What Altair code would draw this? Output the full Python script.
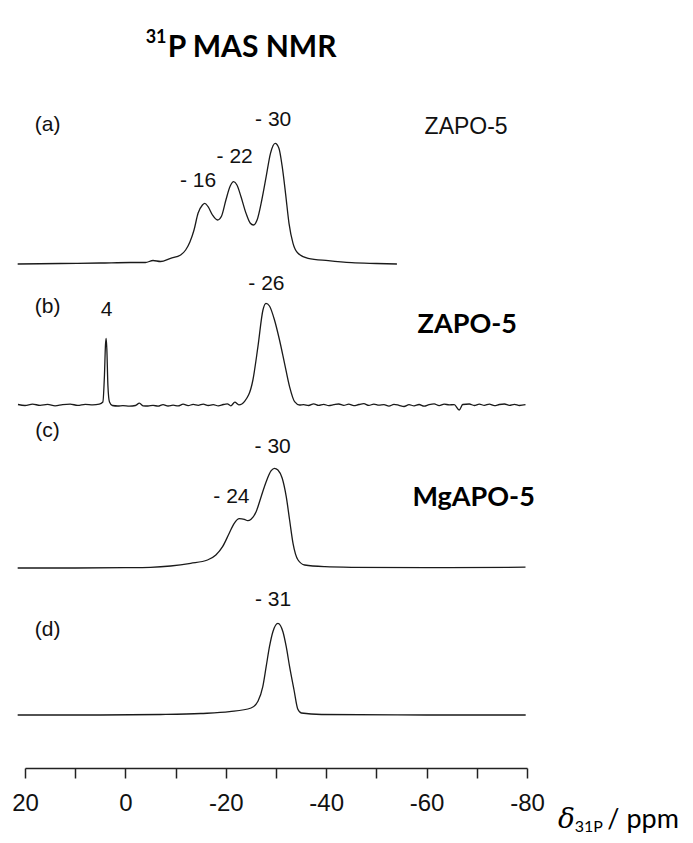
import altair as alt
import pandas as pd

# ---------------- spectra (ppm, intensity above each trace's baseline) ----------------
a_ppm = [21.46, 13.0, 5.0, -1.0, -4.0, -5.5, -7.0, -9.0, -11.0, -12.0, -12.87, -13.67, -14.47, -15.35,
         -15.81, -16.47, -17.35, -18.36, -19.16, -20.02, -20.88, -21.56, -22.22, -23.03, -24.03, -24.89,
         -25.49, -26.23, -27.17, -28.04, -28.90, -29.84, -30.58, -31.24, -31.90, -32.59, -33.39, -34.39,
         -36.39, -40.40, -45.07, -50.0, -54.09]
a_int = [0, 0.5, 1, 1.5, 1.5, 3.5, 2.5, 5.7, 9, 14, 22.3, 34, 50.7, 59,
         60.7, 57.3, 49, 44, 48, 64, 78, 82.3, 79, 67.3, 50.7, 40.7,
         39, 44, 64, 87.3, 110.7, 120.7, 115.7, 97.3, 70.7, 40.7, 20.7, 10.7,
         5.7, 3.3, 1.3, 0.5, 0]

b_ppm = [21.4, 20, 18.5, 17, 15.5, 14, 12.5, 11, 9.5, 8, 6.5, 5.2,
         4.49, 4.17, 3.97, 3.83, 3.69, 3.49, 3.17,
         2.6, 1.5, 0.5, -0.8, -2, -2.8, -3.5, -4.5, -5.5, -6.5, -7.5, -8.5, -9.5, -10.5, -11.5,
         -12.5, -13.5, -14.5, -15.5, -16.5, -17.5, -18.5, -19.5, -20.3, -21, -21.8, -22.6, -23.2,
         -23.7, -25.4, -26.4, -27.4, -28.0, -28.7, -29.7, -30.7, -31.7, -32.7, -33.7, -34.7,
         -35.5, -36.5, -37.5, -38.5, -39.5, -40.5, -41.5, -42.5, -43.5, -44.5, -45.5, -46.5,
         -47.5, -48.5, -49.5, -50.5, -51.5, -52.5, -53.5, -54.5, -55.5, -56.5, -57.5, -58.5,
         -59.5, -60.5, -61.5, -62.5, -63.5, -64.5, -65.5, -66.5, -67.2, -68.5, -69.5, -70.5,
         -71.5, -72.5, -73.5, -74.5, -75.5, -76.5, -77.5, -78.5, -79.7]
b_int = [0.5, -0.5, 0.8, -0.3, 0.6, -0.8, 0.4, 0.9, -0.4, 0.7, 0.2, 0.8,
         3, 30, 60, 66.7, 55, 20, 3,
         -0.5, -1, -0.6, -1.2, -0.5, 1.8, -0.8, -1, -0.3, -1.2, 0.4, -1, -0.2, -0.9, 0.8,
         -0.6, 0.6, -0.3, 0.9, -0.5, 0.3, -0.8, 0.5, 1.2, -0.8, 2.8, 0.2, 1,
         3.3, 25, 58.3, 95, 101.7, 99, 85, 65, 41.7, 18.3, 3.3, 0,
         0.4, -0.5, 1.2, -0.4, 0.6, -0.6, 0.3, 1, -0.3, 0.8, -0.7, 0.5,
         1.3, -0.4, 0.9, -0.2, 0.4, -1.1, 0.6, -0.3, -1.5, 0.3, -0.8, 0.5,
         -1.2, 0.4, 1.2, -0.6, 0.9, 0.1, 0.4, -5, 0.5, 1.0, -0.5, 0.8,
         -0.3, 0.9, -0.6, 0.5, 1.0, -0.4, 0.6, -0.5, 0.3]

c_ppm = [21.46, 10, 0, -4.99, -9.0, -13.0, -16.35, -18.02, -19.36, -20.68, -21.68, -22.69, -23.69,
         -24.37, -25.03, -26.04, -27.04, -28.04, -29.04, -29.70, -30.38, -31.24, -32.04, -32.71,
         -33.39, -34.39, -35.71, -39.72, -45.07, -60, -79.7]
c_int = [0, 0, 0.3, 0.7, 2, 4.7, 8, 13, 21.3, 34.7, 44.7, 49.3, 48.7,
         47.3, 48.7, 56.3, 71.3, 86.3, 97.3, 99.7, 98, 89.7, 71.3, 48,
         24.7, 8, 3, 1.3, 0.7, 0.3, 0.8]

d_ppm = [21.46, 5, -7.0, -15.0, -20.74, -25.03, -26.43, -27.37, -28.04, -28.70, -29.38, -30.38,
         -31.38, -32.04, -32.71, -33.59, -34.33, -35.05, -39.06, -60, -79.74]
d_int = [0, 0, 0.5, 1.5, 3.3, 7, 14, 28.3, 48.3, 68.3, 83.3, 91.7,
         83.3, 68.3, 48.3, 25, 6, 2, 0.5, 0, 0]

# vertical offset of each trace (stacking)
offsets = {"a": 504, "b": 363, "c": 200, "d": 53}

# ---------------- annotations ----------------
panel_text = ["(a)", "(b)", "(c)", "(d)"]
panel_ppm = [15.5, 15.5, 15.5, 15.5]
panel_lvl = [643, 461, 337, 138]

peak_text = ["- 30", "- 22", "- 16", "4", "- 26", "- 30", "- 24", "- 31"]
peak_ppm = [-29.44, -21.77, -14.46, 3.73, -28.09, -29.34, -21.12, -29.40]
peak_lvl = [648, 611, 587, 458, 484, 321, 271, 168]

orig_text = ["ZAPO-5"]
orig_ppm = [-59.6]
orig_lvl = [641]

name_text = ["ZAPO-5", "MgAPO-5"]
name_ppm = [-58.2, -57.2]
name_lvl = [443, 270]

x_ticks = [20, 10, 0, -10, -20, -30, -40, -50, -60, -70, -80]

rows = []
for key, pp, ii in [("a", a_ppm, a_int), ("b", b_ppm, b_int), ("c", c_ppm, c_int), ("d", d_ppm, d_int)]:
    for k, (p, i) in enumerate(zip(pp, ii)):
        rows.append({"trace": key, "ppm": p, "v": offsets[key] + i, "k": k})
spec = pd.DataFrame(rows)

X = alt.X("ppm:Q",
          scale=alt.Scale(domain=[20, -80], nice=False, zero=False),
          axis=alt.Axis(values=x_ticks, title=None, grid=False,
                        labelExpr="datum.value % 20 == 0 ? '' + datum.value : ''",
                        tickSize=10, tickWidth=1.5, tickColor="#222",
                        domainColor="#222", domainWidth=1.5,
                        labelFont="Liberation Sans", labelFontSize=24, labelColor="#111",
                        labelPadding=13, labelFlush=False, labelOverlap=False))
Y = alt.Y("v:Q", scale=alt.Scale(domain=[0, 760], nice=False, zero=False), axis=None)


def text_layer(texts, ppms, lvls, **style):
    df = pd.DataFrame({"t": texts, "ppm": ppms, "v": lvls})
    return alt.Chart(df).mark_text(**style).encode(x=X, y=Y, text="t:N")


lines = alt.Chart(spec).mark_line(color="#1a1a1a", strokeWidth=1.3, interpolate="monotone").encode(
    x=X, y=Y, detail="trace:N", order="k:Q")

panels = text_layer(panel_text, panel_ppm, panel_lvl, font="Liberation Sans", fontSize=21,
                    color="#111", align="center", baseline="middle")
peaks = text_layer(peak_text, peak_ppm, peak_lvl, font="Liberation Sans", fontSize=21,
                   color="#111", align="center", baseline="middle")
orig = text_layer(orig_text, orig_ppm, orig_lvl, font="Liberation Sans", fontSize=23,
                  color="#111", align="left", baseline="middle")
names = text_layer(name_text, name_ppm, name_lvl, font="Lato", fontWeight="bold", fontSize=27,
                   color="#000", align="left", baseline="middle")

title_sup = text_layer(["31"], [-4.04], [725], font="Lato", fontWeight="bold", fontSize=18,
                       color="#000", align="left", baseline="alphabetic")
title_main = text_layer(["P MAS NMR"], [-8.43], [711], font="Lato", fontWeight="bold", fontSize=30,
                        color="#000", align="left", baseline="alphabetic")

delta = text_layer(["δ"], [-86.2], [-60], font="DejaVu Serif", fontStyle="italic", fontSize=28,
                   color="#000", align="left", baseline="alphabetic")
sub = text_layer(["31P"], [-89.5], [-64], font="Lato", fontSize=16,
                 color="#000", align="left", baseline="alphabetic")
unit = text_layer(["/ ppm"], [-96.0], [-60], font="Lato", fontSize=27,
                  color="#000", align="left", baseline="alphabetic")

chart = alt.layer(lines, panels, peaks, orig, names, title_sup, title_main, delta, sub, unit).properties(
    width=502, height=760, autosize="none",
    padding={"left": 17, "top": 0, "right": 158, "bottom": 67}
).configure_view(stroke=None)

chart.save("out.html", embed_options={"renderer": "svg", "actions": False})
